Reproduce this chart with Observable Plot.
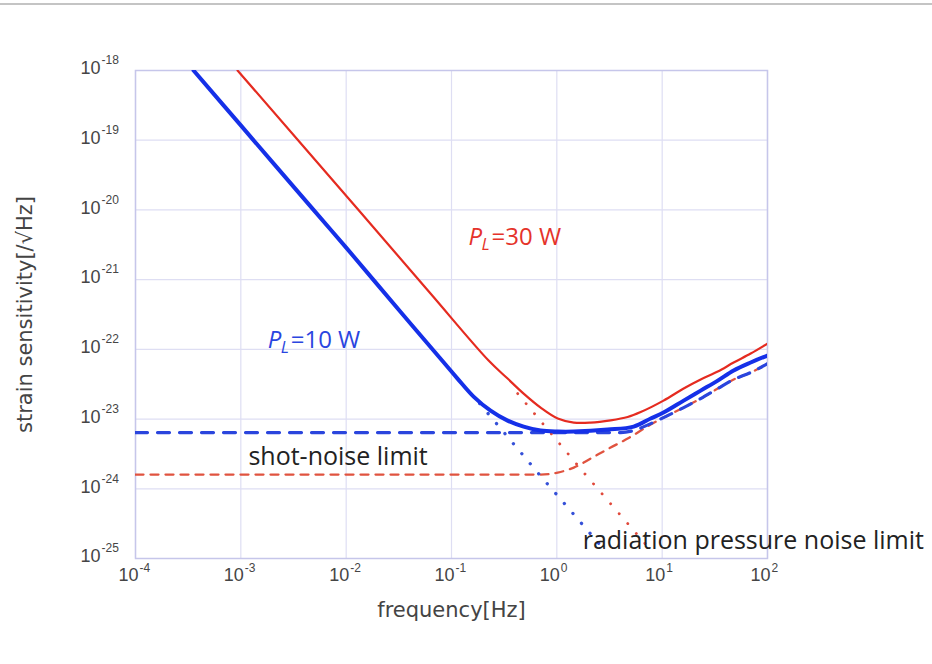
<!DOCTYPE html>
<html><head><meta charset="utf-8">
<script src="https://cdn.jsdelivr.net/npm/d3@7"></script>
<script src="https://cdn.jsdelivr.net/npm/@observablehq/plot@0.6"></script>
<style>
html,body{margin:0;padding:0;background:#fff;}
#topline{position:absolute;left:0;top:3px;width:932px;height:2px;background:#c4c4c4;}
#chart{position:absolute;left:0;top:0;}
</style></head><body>
<div id="topline"></div><div id="chart"></div>
<script>
// ---- axis ticks ----
const xTicks = [1e-4, 1e-3, 1e-2, 1e-1, 1, 10, 100];
const xTickExp = ["-4", "-3", "-2", "-1", "0", "1", "2"];
const yTicks = [1e-25, 1e-24, 1e-23, 1e-22, 1e-21, 1e-20, 1e-19, 1e-18];
const yTickExp = ["-25", "-24", "-23", "-22", "-21", "-20", "-19", "-18"];
const tickBase = "10";
const xLabel = "frequency[Hz]";
const yLabel = "strain sensitivity[/\u221AHz]";

// ---- P_L = 10 W total sensitivity ----
const blueSolidFreq = [3.56e-4, 1.0e-3, 4.9e-3, 1.0e-2, 3.29e-2, 8.41e-2, 0.114, 0.162, 0.235, 0.341, 0.484, 0.702, 1.02, 1.45, 3.04, 5.36, 7.78, 10.3, 16.0, 23.2, 33.7, 47.7, 69.2, 100];
const blueSolidStrain = [1e-18, 1.63e-19, 1.0e-20, 2.88e-21, 3.43e-22, 6.53e-23, 3.81e-23, 2.10e-23, 1.32e-23, 9.5e-24, 7.8e-24, 6.84e-24, 6.62e-24, 6.62e-24, 7.07e-24, 7.8e-24, 1.02e-23, 1.24e-23, 1.84e-23, 2.56e-23, 3.56e-23, 4.97e-23, 6.47e-23, 8.15e-23];

// ---- P_L = 30 W total sensitivity ----
const redSolidFreq = [9.31e-4, 1.31e-2, 6.32e-2, 0.225, 0.341, 0.484, 0.702, 1.02, 1.45, 2.09, 3.24, 4.70, 6.25, 10.3, 16.0, 23.2, 33.7, 47.7, 69.2, 100];
const redSolidStrain = [1e-18, 1e-20, 6.32e-22, 6.91e-23, 3.81e-23, 2.32e-23, 1.46e-23, 1.02e-23, 8.91e-24, 8.91e-24, 9.6e-24, 1.07e-23, 1.26e-23, 1.84e-23, 2.74e-23, 3.69e-23, 4.8e-23, 6.47e-23, 8.71e-23, 1.21e-22];

// ---- shot-noise limits (dashed) ----
const blueShotFreq = [1e-4, 4.04, 5.36, 7.78, 10.3, 16.0, 23.2, 33.7, 47.7, 69.2, 100];
const blueShotStrain = [6.4e-24, 6.4e-24, 6.84e-24, 8.61e-24, 1.05e-23, 1.46e-23, 1.97e-23, 2.74e-23, 3.69e-23, 4.65e-23, 6.25e-23];
const redShotFreq = [1e-4, 0.70, 1.02, 1.45, 2.09, 3.24, 4.70, 7.78, 10.3, 16.0, 23.2, 33.7, 47.7, 69.2, 100];
const redShotStrain = [1.6e-24, 1.6e-24, 1.71e-24, 2.01e-24, 2.71e-24, 3.9e-24, 5.25e-24, 8.34e-24, 1.05e-23, 1.46e-23, 1.97e-23, 2.74e-23, 3.69e-23, 4.65e-23, 6.25e-23];

// ---- radiation pressure noise limits (dotted) ----
const blueRadFreq = [0.185, 0.671, 2.97];
const blueRadStrain = [1.67e-23, 1.65e-24, 1.22e-25];
const redRadFreq = [0.425, 1.80, 8.13];
const redRadStrain = [2.32e-23, 1.71e-24, 1.22e-25];

// ---- annotations ----
const noteText = ["shot-noise limit", "radiation pressure noise limit"];
const noteFreq = [1.18e-3, 1.76];
const noteStrain = [2.9e-24, 1.81e-25];
const powerText = ["=30 W", "=10 W"];
const powerFreq = [0.145, 1.80e-3];
const powerStrain = [4.0e-21, 1.34e-22];

const BLUE = "#1530e8", RED = "#e52b20";
const pts = (fs, hs) => fs.map((f, i) => ({f, h: hs[i]}));
const notes = noteText.map((t, i) => ({t, f: noteFreq[i], h: noteStrain[i]}));
const powers = powerText.map((t, i) => ({t, f: powerFreq[i], h: powerStrain[i], c: i === 0 ? "#e5332a" : "#2a45e0"}));

const tickFont = "Liberation Sans, Arial, sans-serif";
const labelFont = "DejaVu Sans, sans-serif";
const noteFont = "Open Sans, sans-serif";
const gridColor = "#dedef3", frameColor = "#c6c6ea";
const tickColor = "#454545";

const chart = Plot.plot({
  width: 932, height: 664,
  marginLeft: 135, marginRight: 165, marginTop: 70, marginBottom: 106,
  x: {type: "log", domain: [1e-4, 1e2], axis: null},
  y: {type: "log", domain: [1e-25, 1e-18], axis: null},
  style: {background: "transparent", overflow: "visible"},
  marks: [
    Plot.ruleX(xTicks, {x: d => d, stroke: gridColor, strokeWidth: 1.2}),
    Plot.ruleY(yTicks, {y: d => d, stroke: gridColor, strokeWidth: 1.2}),
    Plot.frame({stroke: frameColor, strokeWidth: 1.5}),
    // shot noise dashed
    Plot.line(pts(redShotFreq, redShotStrain), {x: "f", y: "h", stroke: "#e0533f", strokeWidth: 2.3, strokeDasharray: "8 7", curve: "monotone-x", clip: true}),
    Plot.line(pts(blueShotFreq, blueShotStrain), {x: "f", y: "h", stroke: "#2a45dd", strokeWidth: 3.2, strokeDasharray: "12 10", curve: "monotone-x", clip: true}),
    // radiation pressure dotted
    Plot.line(pts(blueRadFreq, blueRadStrain), {x: "f", y: "h", stroke: "#3550d8", strokeWidth: 3.3, strokeDasharray: "0.1 13", strokeLinecap: "round", clip: true}),
    Plot.line(pts(redRadFreq, redRadStrain), {x: "f", y: "h", stroke: "#e0483a", strokeWidth: 2.8, strokeDasharray: "0.1 13", strokeLinecap: "round", clip: true}),
    // total sensitivities
    Plot.line(pts(redSolidFreq, redSolidStrain), {x: "f", y: "h", stroke: RED, strokeWidth: 2.2, curve: "catmull-rom", clip: true}),
    Plot.line(pts(blueSolidFreq, blueSolidStrain), {x: "f", y: "h", stroke: BLUE, strokeWidth: 4, curve: "catmull-rom", clip: true}),
    // tick labels
    Plot.text(xTicks, {x: d => d, text: () => tickBase, frameAnchor: "bottom", textAnchor: "end", lineAnchor: "middle", dx: 3, dy: 17, fontSize: 18, fill: tickColor, fontFamily: tickFont}),
    Plot.text(xTicks, {x: d => d, text: (d, i) => xTickExp[i], frameAnchor: "bottom", textAnchor: "start", lineAnchor: "middle", dx: 4, dy: 10, fontSize: 12, fill: tickColor, fontFamily: tickFont}),
    Plot.text(yTicks, {y: d => d, text: () => tickBase, frameAnchor: "left", textAnchor: "end", lineAnchor: "middle", dx: -35, dy: -2, fontSize: 18, fill: tickColor, fontFamily: tickFont}),
    Plot.text(yTicks, {y: d => d, text: (d, i) => yTickExp[i], frameAnchor: "left", textAnchor: "start", lineAnchor: "middle", dx: -34, dy: -10, fontSize: 12, fill: tickColor, fontFamily: tickFont}),
    // axis labels
    Plot.text([xLabel], {text: d => d, frameAnchor: "bottom", textAnchor: "middle", lineAnchor: "middle", dy: 52, fontSize: 21, fill: "#444", fontFamily: labelFont}),
    Plot.text([yLabel], {text: d => d, frameAnchor: "left", textAnchor: "middle", lineAnchor: "middle", dx: -110, rotate: -90, fontSize: 21, fill: "#444", fontFamily: labelFont}),
    // annotations
    Plot.text(notes, {x: "f", y: "h", text: "t", textAnchor: "start", lineAnchor: "middle", fontSize: 25, fill: "#222", fontFamily: noteFont}),
    Plot.text(powers, {x: "f", y: "h", text: () => "P", textAnchor: "start", lineAnchor: "middle", fontSize: 24, fontStyle: "italic", fill: "c", fontFamily: noteFont}),
    Plot.text(powers, {x: "f", y: "h", text: () => "L", textAnchor: "start", lineAnchor: "middle", dx: 13, dy: 7, fontSize: 17, fontStyle: "italic", fill: "c", fontFamily: noteFont}),
    Plot.text(powers, {x: "f", y: "h", text: "t", textAnchor: "start", lineAnchor: "middle", dx: 23, fontSize: 24, fill: "c", fontFamily: noteFont})
  ]
});
document.getElementById("chart").appendChild(chart);
</script></body></html>
